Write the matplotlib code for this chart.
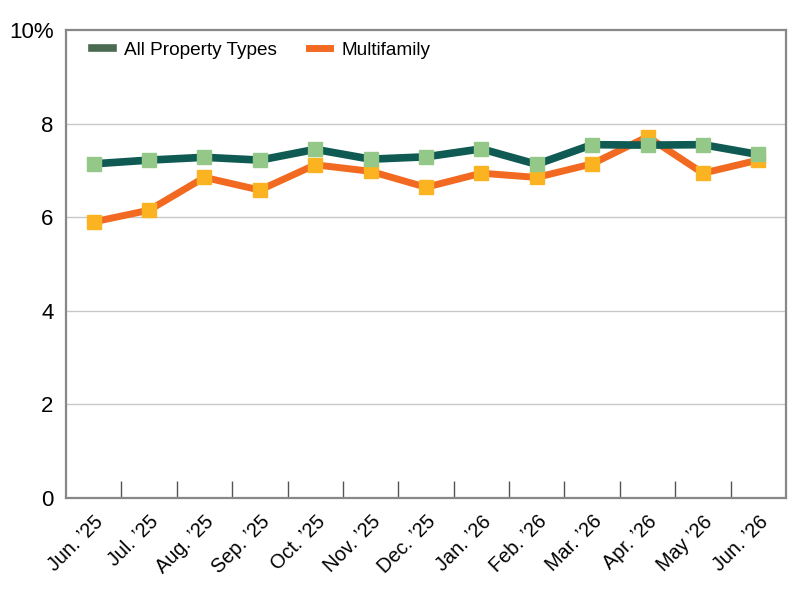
import matplotlib
matplotlib.use("Agg")
import matplotlib.pyplot as plt
import numpy as np

plt.rcParams['font.family'] = ['Liberation Sans', 'DejaVu Sans']

months = ["Jun. ’25", "Jul. ’25", "Aug. ’25", "Sep. ’25", "Oct. ’25", "Nov. ’25",
          "Dec. ’25", "Jan. ’26", "Feb. ’26", "Mar. ’26", "Apr. ’26", "May ’26", "Jun. ’26"]
all_types = [7.14, 7.22, 7.28, 7.22, 7.45, 7.24, 7.29, 7.46, 7.13, 7.55, 7.54, 7.55, 7.34]
multifamily = [5.90, 6.15, 6.85, 6.58, 7.12, 6.98, 6.64, 6.94, 6.85, 7.14, 7.72, 6.94, 7.22]
y_ticks = [0, 2, 4, 6, 8, 10]
y_labels = ["0", "2", "4", "6", "8", "10%"]

fig = plt.figure(figsize=(8, 6), dpi=100)
ax = fig.add_axes([0.0825, 0.17, 0.9, 0.78])

x = np.arange(len(months))
ax.plot(x, multifamily, color='#f26a21', lw=5.0, label='Multifamily', zorder=3)
ax.plot(x, multifamily, ls='none', marker='s', ms=10.5, color='#fbb322', zorder=4)
ax.plot(x, all_types, color='#0f5a52', lw=5.5, label='All Property Types', zorder=5)
ax.plot(x, all_types, ls='none', marker='s', ms=10.5, color='#93c889', zorder=6)

ax.set_xlim(-0.5, len(months) - 0.5)
ax.set_ylim(0, 10)
ax.set_yticks(y_ticks)
ax.set_yticklabels(y_labels, fontsize=16)
ax.tick_params(axis='y', length=0, pad=9)
ax.set_xticks(x)
ax.set_xticklabels(months, rotation=45, ha='right', rotation_mode='anchor', fontsize=14.3)
ax.tick_params(axis='x', which='major', length=0, pad=10)
ax.set_xticks(np.arange(0.5, len(months) - 1, 1.0), minor=True)
ax.tick_params(axis='x', which='minor', direction='in', length=12, width=1, color='#555555')

for yv in y_ticks[1:-1]:
    ax.axhline(yv, color='#c8c8c8', lw=1, zorder=1)

for s in ax.spines.values():
    s.set_color('#888888')
    s.set_linewidth(1.6)

handles, labels = ax.get_legend_handles_labels()
order = [1, 0]
leg = ax.legend([handles[i] for i in order], [labels[i] for i in order],
                loc='upper left', ncol=2, frameon=False, fontsize=13.7,
                handlelength=1.1, handletextpad=0.6, columnspacing=1.7,
                bbox_to_anchor=(0.012, 1.012))
leg.legend_handles[0].set_color('#4a6b52')

fig.savefig('out.png', dpi=100)
